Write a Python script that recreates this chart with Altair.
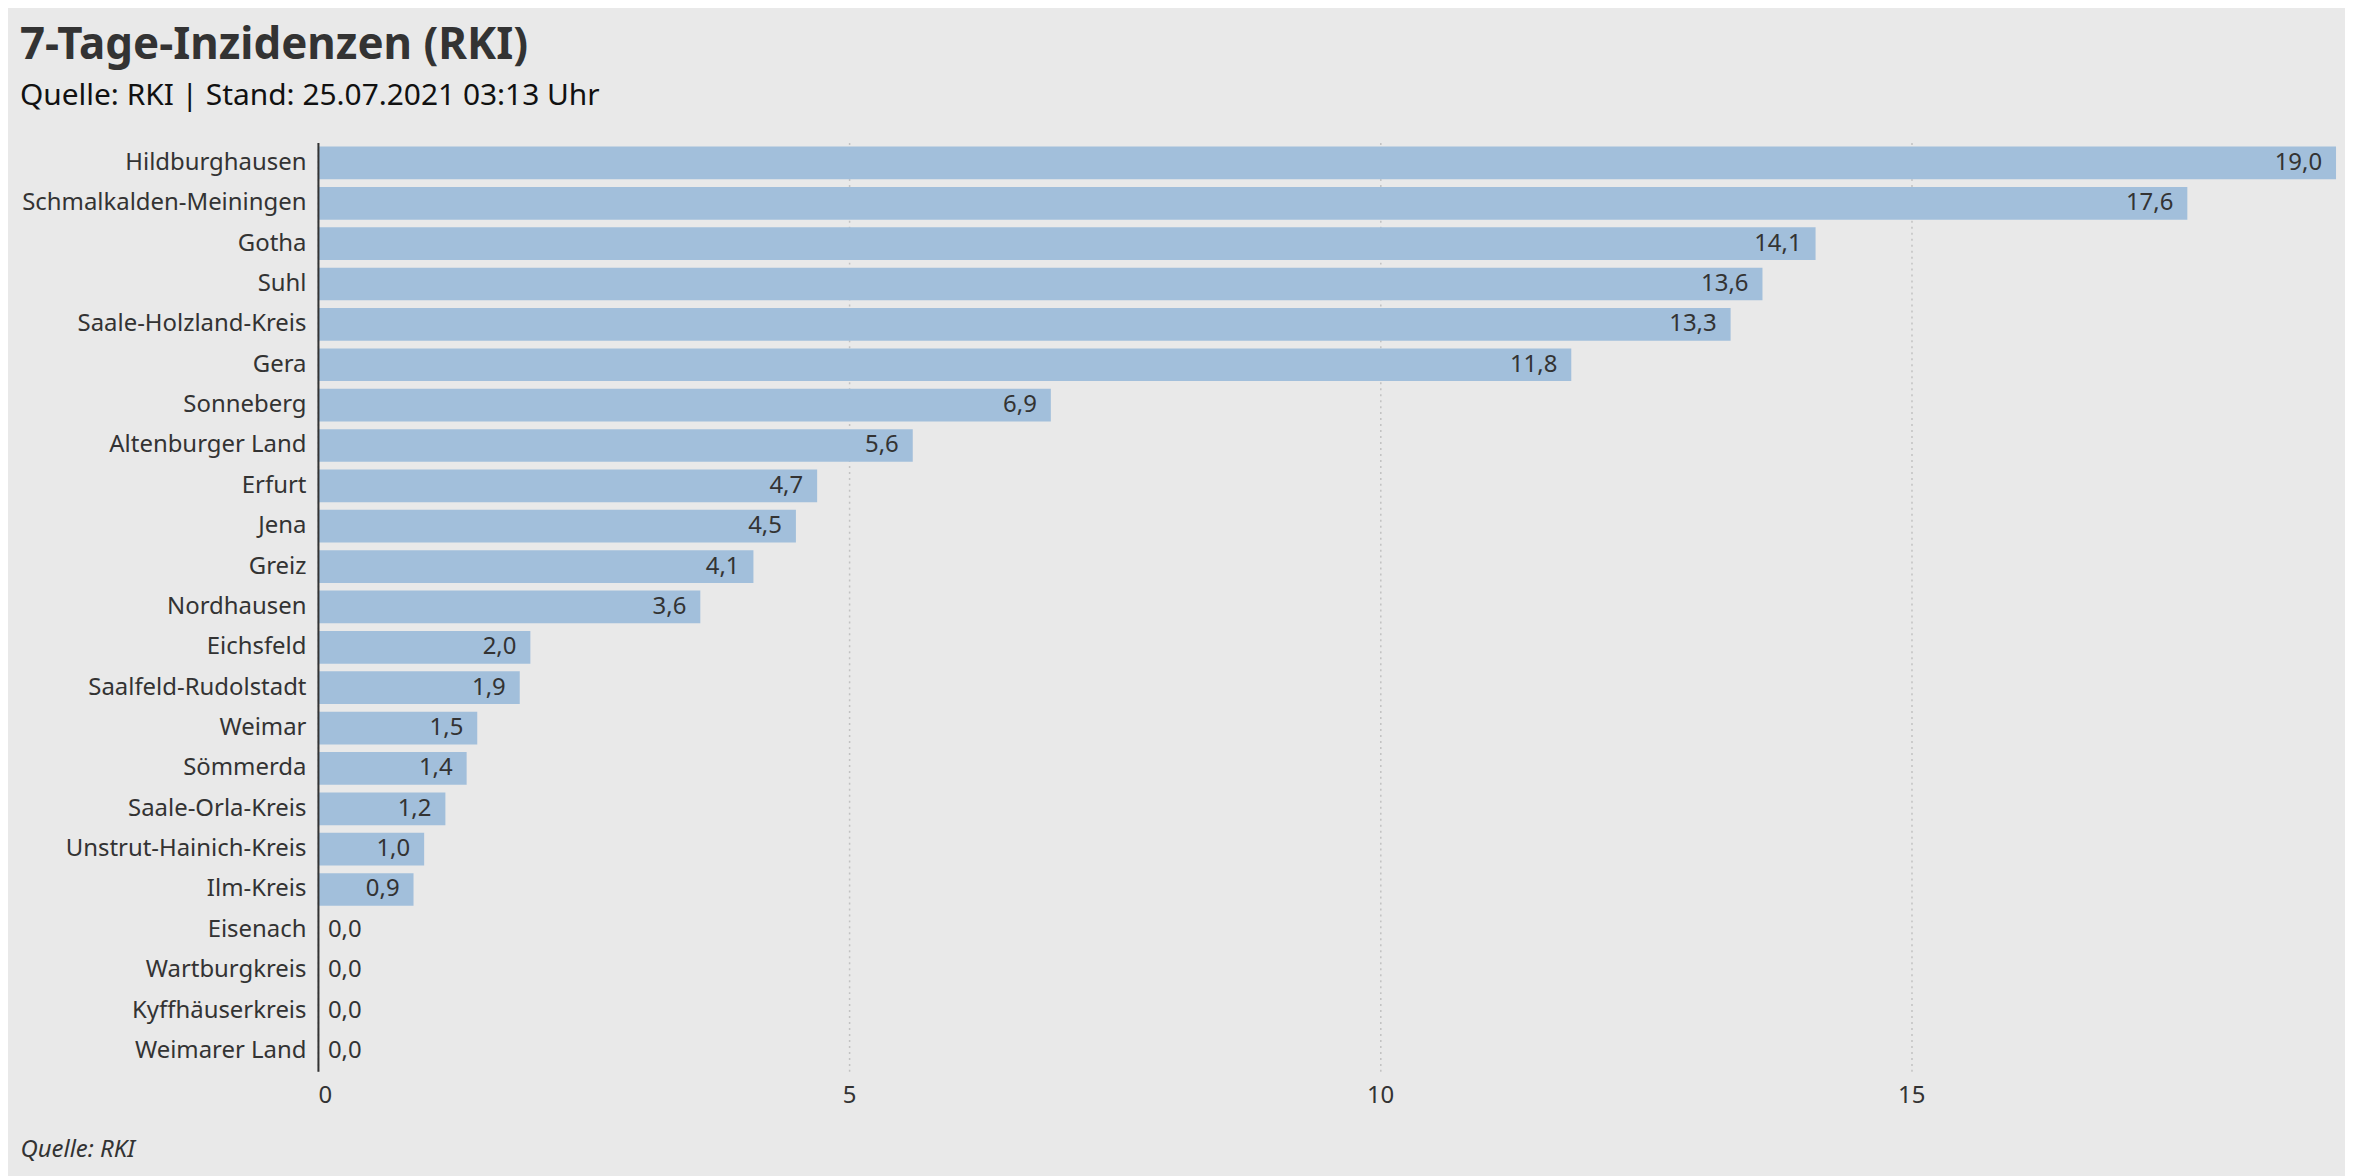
import altair as alt
import pandas as pd

kreise = [
    "Hildburghausen", "Schmalkalden-Meiningen", "Gotha", "Suhl",
    "Saale-Holzland-Kreis", "Gera", "Sonneberg", "Altenburger Land",
    "Erfurt", "Jena", "Greiz", "Nordhausen", "Eichsfeld",
    "Saalfeld-Rudolstadt", "Weimar", "Sömmerda", "Saale-Orla-Kreis",
    "Unstrut-Hainich-Kreis", "Ilm-Kreis", "Eisenach", "Wartburgkreis",
    "Kyffhäuserkreis", "Weimarer Land",
]
inzidenz = [
    19.0, 17.6, 14.1, 13.6, 13.3, 11.8, 6.9, 5.6, 4.7, 4.5, 4.1, 3.6,
    2.0, 1.9, 1.5, 1.4, 1.2, 1.0, 0.9, 0.0, 0.0, 0.0, 0.0,
]
x_ticks = [0, 5, 10, 15]

df = pd.DataFrame({"kreis": kreise, "wert": inzidenz})

FONT = "Noto Sans"
TXT = "#333333"

y_enc = alt.Y(
    "kreis:N",
    sort=kreise,
    title=None,
    scale=alt.Scale(paddingInner=0.19, paddingOuter=0.1),
    axis=alt.Axis(
        domain=True, domainColor=TXT, domainWidth=2, ticks=False, grid=False,
        labelPadding=12, labelFontSize=24, labelColor=TXT, labelFont=FONT,
        labelLimit=0, zindex=1,
    ),
)
x_enc = alt.X(
    "wert:Q",
    scale=alt.Scale(domain=[0, 19], nice=False, zero=True),
    axis=alt.Axis(
        values=x_ticks, format="d", domain=False, ticks=False, grid=True,
        gridColor="#c2c2c2", gridDash=[2, 4], gridWidth=1.5,
        labelPadding=12, labelFontSize=24, labelColor=TXT, labelFont=FONT,
        title="Quelle: RKI", titleFont=FONT, titleFontSize=24,
        titleFontStyle="italic", titleFontWeight="normal", titleColor=TXT,
        titleAnchor="start", titleAlign="left", titleBaseline="alphabetic",
        titleX=-299, titleY=85, zindex=0,
    ),
)

base = alt.Chart(df).transform_calculate(
    label="replace(format(datum.wert, '.1f'), '.', ',')"
)

bars = base.mark_bar(color="#a2bfdb").encode(y=y_enc, x=x_enc)

inside = base.transform_filter("datum.wert > 0").mark_text(
    align="right", baseline="middle", dx=-14, fontSize=24, font=FONT, color=TXT
).encode(y=alt.Y("kreis:N", sort=kreise), x="wert:Q", text="label:N")

outside = base.transform_filter("datum.wert <= 0").mark_text(
    align="left", baseline="middle", dx=10, fontSize=24, font=FONT, color=TXT
).encode(y=alt.Y("kreis:N", sort=kreise), x="wert:Q", text="label:N")

chart = alt.layer(bars, inside, outside).properties(
    width=2025,
    height=932,
    autosize="none",
    padding={"left": 311, "top": 133, "right": 9, "bottom": 103},
    background="#e9e9e9",
    title=alt.TitleParams(
        text="7-Tage-Inzidenzen (RKI)",
        subtitle="Quelle: RKI | Stand: 25.07.2021 03:13 Uhr",
        anchor="start", frame="group", dx=-299,
        font=FONT, fontSize=44, fontWeight="bold", color=TXT,
        subtitleFont=FONT, subtitleFontSize=30, subtitleColor="#111111",
        offset=32, subtitlePadding=13,
    ),
).configure_view(stroke=None)

chart.save("out.html", embed_options={"renderer": "svg", "actions": False})
